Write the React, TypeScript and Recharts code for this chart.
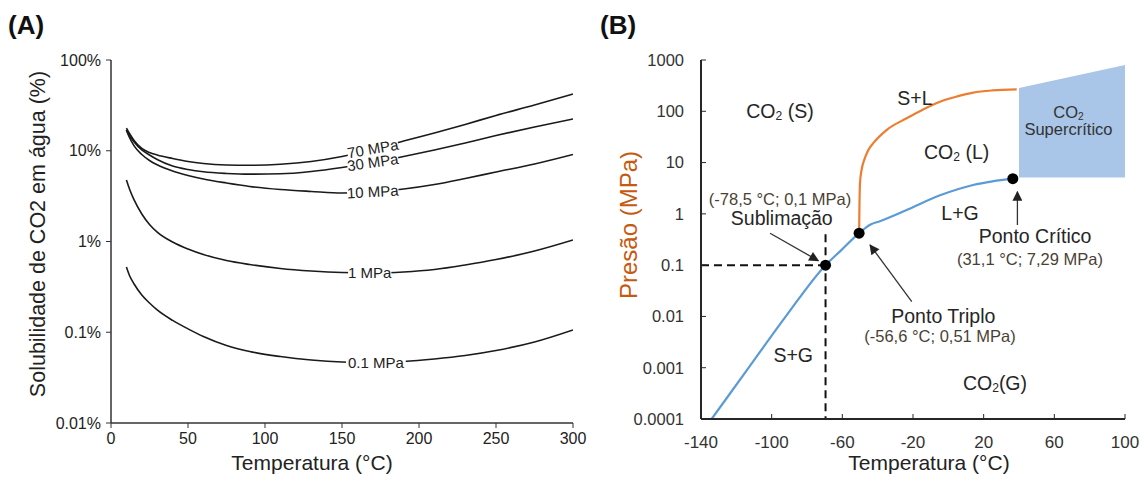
import React from 'react';
import { ComposedChart, LineChart, Line, Area, XAxis, YAxis, ReferenceDot } from 'recharts';

const FONT = '"Liberation Sans", Arial, Helvetica, sans-serif';

// ---------- Panel A : CO2 solubility in water ----------
const tempA = [10, 12, 15, 20, 25, 30, 40, 50, 60, 75, 90, 110, 130, 150, 170, 190, 210, 230, 250, 275, 300];
const sol70 = [17.8, 15.5, 13.0, 10.6, 9.56, 8.98, 8.21, 7.61, 7.24, 6.97, 6.91, 7.09, 7.61, 8.64, 10.3, 12.8, 15.7, 19.5, 24.5, 31.9, 42.2];
const sol30 = [16.9, 14.7, 12.5, 10.2, 8.98, 8.01, 6.79, 6.21, 5.86, 5.62, 5.52, 5.57, 5.91, 6.54, 7.42, 8.64, 10.2, 12.2, 14.7, 18.3, 22.4];
const sol10 = [16.9, 14.0, 11.3, 9.09, 7.81, 7.0, 5.98, 5.34, 4.88, 4.41, 4.04, 3.74, 3.56, 3.42, 3.51, 3.79, 4.25, 4.95, 5.83, 7.14, 9.09];
const sol1 = [4.76, 3.79, 2.87, 2.01, 1.54, 1.27, 0.987, 0.827, 0.719, 0.617, 0.558, 0.504, 0.473, 0.455, 0.45, 0.461, 0.491, 0.551, 0.633, 0.786, 1.04];
const sol01 = [0.524, 0.422, 0.34, 0.257, 0.21, 0.176, 0.135, 0.109, 0.0898, 0.0715, 0.0614, 0.054, 0.0494, 0.047, 0.0464, 0.0476, 0.0507, 0.0554, 0.0629, 0.0781, 0.106];
const ticksXA = [0, 50, 100, 150, 200, 250, 300];
const ticksYA = [0.01, 0.1, 1, 10, 100];

const curveLabels = ['70 MPa', '30 MPa', '10 MPa', '1 MPa', '0.1 MPa'];
const curveLabelT = [170, 170, 170, 168, 172];
const curveLabelV = [10.5, 7.45, 3.53, 0.45, 0.0464];
const curveLabelAngle = [-10, -8, -3, 0, 0];

const dataA = tempA.map((t, i) => ({ t, p70: sol70[i], p30: sol30[i], p10: sol10[i], p1: sol1[i], p01: sol01[i] }));
const seriesKeysA = ['p70', 'p30', 'p10', 'p1', 'p01'];

// ---------- Panel B : CO2 phase diagram ----------
const vapT = [-134, -113, -92, -69.5, -61, -50.5, -44, -38.7, -23.6, -4.7, 14, 25, 36.5];
const vapP = [0.0001, 0.001, 0.01, 0.1, 0.19, 0.42, 0.62, 0.72, 1.19, 2.3, 3.66, 4.3, 4.85];
const fusT = [-50.5, -50.3, -50, -49, -47.5, -45.5, -42, -35, -23.6, -14, -4.7, 5, 14.1, 25, 38.7];
const fusP = [0.42, 1.5, 4, 7.5, 11.5, 17, 25, 43, 73, 110, 154, 195, 231, 255, 268];
const superT = [40, 100];
const superLow = [5.1, 5.1];
const superHigh = [285, 800];
const pointT = [-69.5, -50.5, 36.5];
const pointP = [0.1, 0.42, 4.85];
const dashH = [{ t: -140, p: 0.1 }, { t: -69.5, p: 0.1 }];
const dashV = [{ t: -69.5, p: 0.4 }, { t: -69.5, p: 0.0001 }];
const arrows = [
  [{ t: -100.9, p: 0.418 }, { t: -73.6, p: 0.122 }],
  [{ t: -20.7, p: 0.0194 }, { t: -44.3, p: 0.247 }],
  [{ t: 39.1, p: 0.607 }, { t: 39.1, p: 2.7 }],
];
const ticksXB = [-140, -100, -60, -20, 20, 60, 100];
const ticksYB = [0.0001, 0.001, 0.01, 0.1, 1, 10, 100, 1000];

const annText = ['CO2 (S)', 'S+L', 'CO2 (L)', 'CO2', 'Supercrítico', '(-78,5 °C; 0,1 MPa)', 'Sublimação', 'L+G', 'Ponto Crítico', '(31,1 °C; 7,29 MPa)', 'Ponto Triplo', '(-56,6 °C; 0,51 MPa)', 'S+G', 'CO2(G)'];
const annT = [-95.3, -18.9, 4.7, 68, 68, -95.3, -94.3, 6.6, 49.1, 46.2, -2.85, -4.7, -87.8, 26.4];
const annP = [101, 179, 16.3, 98, 44.6, 1.92, 0.82, 1.03, 0.359, 0.13, 0.0099, 0.00403, 0.00177, 0.0005];
const annKind = ['phase', 'phase', 'phase', 'super', 'super', 'coord', 'phase', 'phase', 'phase', 'coord', 'phase', 'coord', 'phase', 'phase'];

const vapData = vapT.map((t, i) => ({ t, p: vapP[i] }));
const fusData = fusT.map((t, i) => ({ t, p: fusP[i] }));
const superData = superT.map((t, i) => ({ t, r: [superLow[i], superHigh[i]] }));

const kindStyle: Record<string, { size: number; color: string }> = {
  phase: { size: 19.5, color: '#262626' },
  coord: { size: 16.5, color: '#4a3f35' },
  super: { size: 16.5, color: '#333333' },
};

function rich(str: string, size: number) {
  const parts = str.split('CO2');
  const out: any[] = [];
  parts.forEach((p, i) => {
    if (i > 0) {
      out.push(<tspan key={'c' + i}>CO</tspan>);
      out.push(<tspan key={'s' + i} fontSize={size * 0.62} dy={2}>2</tspan>);
      out.push(<tspan key={'r' + i} dy={-2}>{p}</tspan>);
    } else if (p) {
      out.push(<tspan key={'p' + i}>{p}</tspan>);
    }
  });
  return out;
}

const center = (props: any) => {
  const vb = props.viewBox || {};
  return { cx: (vb.x || 0) + (vb.width || 0) / 2, cy: (vb.y || 0) + (vb.height || 0) / 2 };
};

const tickFmtB = (v: number) => String(v);

export default function App() {
  const axisA = { stroke: '#333', strokeWidth: 1.5 };
  const axisB = { stroke: '#262626', strokeWidth: 2 };
  const borderB = { stroke: '#8a8a8a', strokeWidth: 1.5 };
  return (
    <div style={{ position: 'absolute', left: 0, top: 0, width: 1146, height: 477, background: '#fff', fontFamily: FONT }}>
      <svg width={0} height={0} style={{ position: 'absolute' }}>
        <defs>
          <marker id="arrowHead" viewBox="0 0 10 10" refX="9" refY="5" markerWidth="13" markerHeight="10" orient="auto" markerUnits="userSpaceOnUse">
            <path d="M0,0 L10,5 L0,10 z" fill="#222" />
          </marker>
        </defs>
      </svg>

      <div style={{ position: 'absolute', left: 0, top: 0 }}>
        <LineChart width={600} height={477} data={dataA} margin={{ top: 60, right: 27, bottom: 24, left: 41 }}>
          <XAxis dataKey="t" type="number" domain={[0, 300]} ticks={ticksXA} allowDataOverflow height={30}
            axisLine={axisA} tickLine={{ stroke: '#333' }} tickSize={5} tickMargin={5}
            tick={{ fill: '#222', fontSize: 16, fontFamily: FONT }} />
          <XAxis xAxisId="top" orientation="top" type="number" domain={[0, 300]} height={0} tick={false} tickLine={false} axisLine={axisA} />
          <YAxis type="number" scale="log" domain={[0.01, 100]} ticks={ticksYA} allowDataOverflow width={70}
            tickFormatter={(v: number) => `${v}%`} axisLine={axisA} tickLine={{ stroke: '#333' }} tickSize={5} tickMargin={5}
            tick={{ fill: '#222', fontSize: 16, fontFamily: FONT }} />
          <YAxis yAxisId="right" orientation="right" width={0} tick={false} tickLine={false} axisLine={axisA} />
          {seriesKeysA.map((k) => (
            <Line key={k} dataKey={k} type="monotone" stroke="#1a1a1a" strokeWidth={1.6} dot={false} isAnimationActive={false} />
          ))}
          {curveLabels.map((lab, i) => (
            <ReferenceDot key={'lab' + i} x={curveLabelT[i]} y={curveLabelV[i]} r={0} fill="none" stroke="none" ifOverflow="visible"
              label={{
                content: (props: any) => {
                  const { cx, cy } = center(props);
                  const w = lab.length * 0.55 * 15 + 2;
                  return (
                    <g transform={`translate(${cx},${cy}) rotate(${curveLabelAngle[i]})`}>
                      <rect x={-w / 2} y={-6} width={w} height={12} fill="#fff" />
                      <text x={0} y={0} dy="0.35em" textAnchor="middle" fontSize={15} fill="#222" fontFamily={FONT}>{lab}</text>
                    </g>
                  );
                },
              }} />
          ))}
        </LineChart>
      </div>

      <div style={{ position: 'absolute', left: 580, top: 0 }}>
        <ComposedChart width={566} height={477} margin={{ top: 60, right: 21, bottom: 28, left: 41 }}>
          <XAxis dataKey="t" type="number" domain={[-140, 100]} ticks={ticksXB} allowDataOverflow height={30}
            axisLine={axisB} tickLine={{ stroke: '#262626', strokeWidth: 1 }} tickSize={-5} tickMargin={22}
            tick={{ fill: '#333', fontSize: 17, fontFamily: FONT }} />
          <XAxis xAxisId="top" orientation="top" type="number" domain={[-140, 100]} height={0} tick={false} tickLine={false} axisLine={borderB} />
          <YAxis type="number" scale="log" domain={[0.0001, 1000]} ticks={ticksYB} allowDataOverflow width={80}
            tickFormatter={tickFmtB} axisLine={axisB} tickLine={{ stroke: '#262626', strokeWidth: 1 }} tickSize={-5} tickMargin={22}
            tick={{ fill: '#333', fontSize: 16.5, fontFamily: FONT }} />
          <YAxis yAxisId="right" orientation="right" width={0} tick={false} tickLine={false} axisLine={borderB} />

          <Area data={superData} dataKey="r" type="linear" fill="#A9C5E8" fillOpacity={1} stroke="none" isAnimationActive={false} />
          <Line data={fusData} dataKey="p" type="monotone" stroke="#ED7D31" strokeWidth={2.2} dot={false} isAnimationActive={false} />
          <Line data={vapData} dataKey="p" type="monotone" stroke="#5B9BD5" strokeWidth={2.2} dot={false} isAnimationActive={false} />
          <Line data={dashH} dataKey="p" type="linear" stroke="#111" strokeWidth={2} strokeDasharray="8 5" dot={false} isAnimationActive={false} />
          <Line data={dashV} dataKey="p" type="linear" stroke="#111" strokeWidth={2} strokeDasharray="8 5" dot={false} isAnimationActive={false} />
          {arrows.map((a, i) => (
            <Line key={'arr' + i} data={a} dataKey="p" type="linear" stroke="#333" strokeWidth={1.3} dot={false}
              markerEnd="url(#arrowHead)" isAnimationActive={false} />
          ))}
          {pointT.map((t, i) => (
            <ReferenceDot key={'pt' + i} x={t} y={pointP[i]} r={5.5} fill="#000" stroke="none" ifOverflow="visible" />
          ))}
          {annText.map((txt, i) => {
            const st = kindStyle[annKind[i]];
            return (
              <ReferenceDot key={'ann' + i} x={annT[i]} y={annP[i]} r={0} fill="none" stroke="none" ifOverflow="visible"
                label={{
                  content: (props: any) => {
                    const { cx, cy } = center(props);
                    return (
                      <text x={cx} y={cy} dy="0.35em" textAnchor="middle" fontSize={st.size} fill={st.color} fontFamily={FONT}>
                        {rich(txt, st.size)}
                      </text>
                    );
                  },
                }} />
            );
          })}
        </ComposedChart>
      </div>

      <svg width={1146} height={477} style={{ position: 'absolute', left: 0, top: 0, pointerEvents: 'none' }}>
        <text x={8} y={34} fontSize={26} fontWeight="bold" fill="#111" fontFamily={FONT}>(A)</text>
        <text x={600} y={34} fontSize={26} fontWeight="bold" fill="#111" fontFamily={FONT}>(B)</text>
        <text x={312} y={470} textAnchor="middle" fontSize={21} fill="#222" fontFamily={FONT}>Temperatura (°C)</text>
        <text transform="translate(45,234) rotate(-90)" textAnchor="middle" fontSize={21.5} fill="#222" fontFamily={FONT}>Solubilidade de CO2 em água (%)</text>
        <text x={929} y={470} textAnchor="middle" fontSize={21} fill="#222" fontFamily={FONT}>Temperatura (°C)</text>
        <text transform="translate(637,225) rotate(-90)" textAnchor="middle" fontSize={24} fill="#C55A11" fontFamily={FONT}>Presão (MPa)</text>
      </svg>
    </div>
  );
}
